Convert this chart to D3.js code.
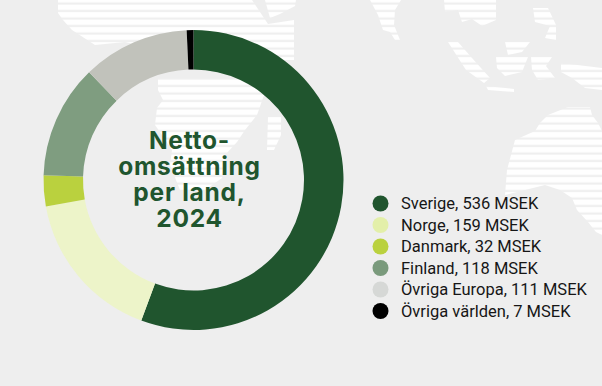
<!DOCTYPE html>
<html>
<head>
<meta charset="utf-8">
<script src="https://cdn.jsdelivr.net/npm/d3@7"></script>
<style>
html, body { margin: 0; padding: 0; background: #eeeeee; }
svg { display: block; }
text { font-family: Roboto, "Noto Sans", sans-serif; }
.title { font-family: Inter, "Noto Sans", sans-serif; }
</style>
</head>
<body>
<svg id="chart" width="602" height="386"></svg>
<script>
var categories = ['Sverige', 'Norge', 'Danmark', 'Finland', 'Övriga Europa', 'Övriga världen'];
var values = [536, 159, 32, 118, 111, 7];
var ring_colors = ['#20552e', '#edf4c9', '#bad13e', '#7f9d80', '#c1c2bb', '#000000'];
var legend_colors = ['#20552e', '#e3efa9', '#bad13e', '#7a9a7c', '#d6d8d6', '#000000'];
var title_lines = ['Netto-', 'omsättning', 'per land,', '2024'];

// background map, rough outlines of the land masses
var land = [
	[[58,0],[252,0],[268,24],[294,20],[294,60],[200,60],[125,42],[95,45],[72,30],[63,20],[58,13]],
	[[265,0],[296,0],[295,6],[280,14],[270,18]],
	[[158,78],[270,78],[257,115],[245,130],[237,142],[225,155],[222,178],[205,190],[180,190],[170,165],[172,150],[162,135],[155,125],[157,108],[163,100],[158,90]],
	[[268,117],[281,117],[281,135],[274,150],[267,150]],
	[[370,0],[401,0],[395,10],[394,25],[400,40],[395,40],[390,32],[383,30],[378,15]],
	[[444,0],[496,0],[496,20],[482,26],[472,19],[462,22],[458,10],[445,12]],
	[[448,42],[458,42],[472,58],[490,78],[484,83],[466,70]],
	[[505,42],[530,42],[522,52],[508,55]],
	[[496,57],[528,57],[522,72],[505,76],[497,68]],
	[[486,86],[514,89],[514,92],[488,90]],
	[[531,57],[552,57],[546,66],[555,78],[538,80],[532,70]],
	[[561,63],[602,68],[602,90],[585,88],[572,78],[561,72]],
	[[533,8],[548,8],[556,25],[556,40],[545,38],[550,26],[535,22]],
	[[568,107],[590,107],[592,115],[598,123],[602,131],[602,235],[596,232],[588,222],[577,210],[572,198],[560,190],[545,185],[525,190],[505,195],[507,170],[515,140],[535,131],[540,123],[548,115]]
];

var svg = d3.select('#chart');
var width = +svg.attr('width'), height = +svg.attr('height');

svg.append('rect').attr('width', width).attr('height', height).attr('fill', '#eeeeee');

var pattern = svg.append('defs').append('pattern')
	.attr('id', 'stripes')
	.attr('patternUnits', 'userSpaceOnUse')
	.attr('width', 10).attr('height', 7.5);
pattern.append('rect').attr('width', 10).attr('height', 7.5).attr('fill', '#ffffff');
pattern.append('rect').attr('y', 2.5).attr('width', 10).attr('height', 2).attr('fill', '#eeeeee');

var outline = d3.line().curve(d3.curveLinearClosed);
svg.append('g').selectAll('path').data(land).enter().append('path')
	.attr('d', d => outline(d))
	.attr('fill', 'url(#stripes)');

// donut
var color_scale = d3.scaleOrdinal().domain(categories).range(ring_colors);
var pie = d3.pie().sort(null).value((d, i) => values[i]);
var arc = d3.arc().innerRadius(110.5).outerRadius(150);

svg.append('g').attr('transform', 'translate(193.5,180)')
	.selectAll('path').data(pie(categories)).enter().append('path')
	.attr('d', arc)
	.attr('fill', d => color_scale(d.data));

// title in the hole, one text element with a tspan per line
var title_y = d3.scalePoint().domain(title_lines).range([149, 227]);
svg.append('text')
	.attr('class', 'title')
	.attr('text-anchor', 'middle')
	.attr('font-size', 24.5)
	.attr('font-weight', 700)
	.attr('letter-spacing', 0.75)
	.attr('fill', '#20552e')
	.selectAll('tspan').data(title_lines).enter().append('tspan')
	.attr('x', 189.5)
	.attr('y', d => title_y(d))
	.text(d => d);

// legend
var legend_y = d3.scalePoint().domain(categories).range([203.5, 311]);
var legend_color = d3.scaleOrdinal().domain(categories).range(legend_colors);
var legend = svg.append('g').selectAll('g').data(categories).enter().append('g')
	.attr('transform', d => 'translate(380.5,' + legend_y(d) + ')');
legend.append('circle').attr('r', 8).attr('fill', d => legend_color(d));
legend.append('text')
	.attr('x', 20.5)
	.attr('y', 5.5)
	.attr('font-size', 16.5)
	.attr('fill', '#161616')
	.text((d, i) => d + ', ' + values[i] + ' MSEK');
</script>
</body>
</html>
